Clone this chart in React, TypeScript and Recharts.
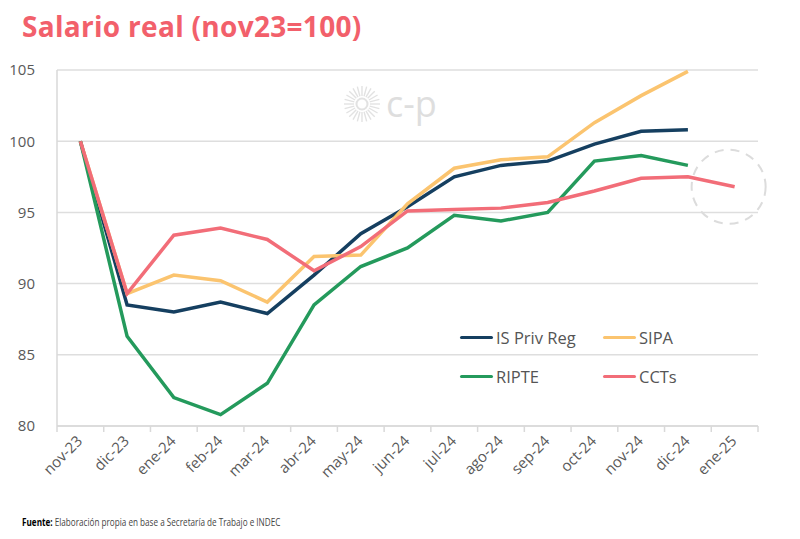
import { LineChart, Line, XAxis, YAxis, CartesianGrid, ReferenceDot } from "recharts";

const months = [
  "nov-23", "dic-23", "ene-24", "feb-24", "mar-24", "abr-24", "may-24", "jun-24",
  "jul-24", "ago-24", "sep-24", "oct-24", "nov-24", "dic-24", "ene-25",
];
const isPrivReg = [100, 88.5, 88.0, 88.7, 87.9, 90.6, 93.5, 95.4, 97.5, 98.3, 98.6, 99.8, 100.7, 100.8, null];
const sipa = [100, 89.3, 90.6, 90.2, 88.7, 91.9, 92.0, 95.6, 98.1, 98.7, 98.9, 101.3, 103.2, 104.9, null];
const ripte = [100, 86.3, 82.0, 80.8, 83.0, 88.5, 91.2, 92.5, 94.8, 94.4, 95.0, 98.6, 99.0, 98.3, null];
const ccts = [100, 89.3, 93.4, 93.9, 93.1, 90.9, 92.6, 95.1, 95.2, 95.3, 95.7, 96.5, 97.4, 97.5, 96.8];
const yTicks = [80, 85, 90, 95, 100, 105];

const series = [
  { key: "isPrivReg", name: "IS Priv Reg", color: "#153f60" },
  { key: "sipa", name: "SIPA", color: "#fbc46f" },
  { key: "ripte", name: "RIPTE", color: "#249a5c" },
  { key: "ccts", name: "CCTs", color: "#f26d78" },
];

const data = months.map((m, i) => ({
  month: m,
  isPrivReg: isPrivReg[i],
  sipa: sipa[i],
  ripte: ripte[i],
  ccts: ccts[i],
}));

const FONT = "'Open Sans', 'Noto Sans', sans-serif";
const HALF_BAND = (800 - 57 - 42) / months.length / 2;

const MonthTick = (props: any) => {
  const { x, y, payload, index } = props;
  const last = index === months.length - 1;
  return (
    <g>
      <line x1={x - HALF_BAND} x2={x - HALF_BAND} y1={y - 8} y2={y - 2} stroke="#d9d9d9" strokeWidth={1.5} />
      {last && <line x1={x + HALF_BAND} x2={x + HALF_BAND} y1={y - 8} y2={y - 2} stroke="#d9d9d9" strokeWidth={1.5} />}
      <text
        x={x + 3}
        y={y + 8}
        transform={`rotate(-45 ${x + 3} ${y + 8})`}
        textAnchor="end"
        fontSize={15}
        fill="#595959"
        fontFamily={FONT}
      >
        {payload.value}
      </text>
    </g>
  );
};

const Circle = (props: any) => (
  <circle cx={props.cx - 6} cy={props.cy} r={37} fill="none" stroke="#dcdcdc" strokeWidth={2} strokeDasharray="9 7" />
);

function Logo() {
  const rays = Array.from({ length: 24 }, (_, i) => i);
  return (
    <svg width={110} height={50} style={{ position: "absolute", left: 340, top: 80 }}>
      <g transform="translate(22 24)">
        {rays.map((i) => {
          const a = (i * Math.PI * 2) / 24;
          return (
            <line key={i} x1={Math.cos(a) * 8} y1={Math.sin(a) * 8} x2={Math.cos(a) * 18} y2={Math.sin(a) * 18}
              stroke="#e2e2e2" strokeWidth={1.4} />
          );
        })}
        <circle r={5.5} fill="none" stroke="#e2e2e2" strokeWidth={2} />
      </g>
      <text x={46} y={37} fontSize={36} fill="#dedede" fontFamily={FONT}>c-p</text>
    </svg>
  );
}

function LegendItem({ name, color, left, top }: { name: string; color: string; left: number; top: number }) {
  return (
    <div style={{ position: "absolute", left, top, display: "flex", alignItems: "center", fontFamily: FONT, fontSize: 16.5, color: "#555" }}>
      <div style={{ width: 33, height: 3.5, borderRadius: 2, background: color, marginRight: 3 }} />
      <span>{name}</span>
    </div>
  );
}

export default function App() {
  return (
    <div style={{ position: "absolute", left: 0, top: 0, width: 800, height: 539, background: "#fff", overflow: "hidden" }}>
      <div style={{ position: "absolute", left: 22, top: 7, fontFamily: FONT, fontWeight: 700, fontSize: 28, letterSpacing: 0.3, color: "#f2606b" }}>
        Salario real (nov23=100)
      </div>
      <Logo />
      <LineChart width={800} height={539} data={data} margin={{ top: 70, right: 42, bottom: 53, left: 0 }}>
        <CartesianGrid vertical={false} stroke="#dedede" strokeWidth={1.5} />
        <XAxis
          dataKey="month"
          interval={0}
          height={60}
          padding={{ left: HALF_BAND, right: HALF_BAND }}
          tickLine={false}
          axisLine={{ stroke: "#d9d9d9", strokeWidth: 1.5 }}
          tick={<MonthTick />}
        />
        <YAxis
          domain={[80, 105]}
          ticks={yTicks}
          width={57}
          tickLine={false}
          tickMargin={16}
          axisLine={{ stroke: "#d9d9d9", strokeWidth: 1.5 }}
          tick={{ fontSize: 15, fill: "#595959", fontFamily: FONT }}
        />
        <YAxis
          yAxisId="r"
          orientation="right"
          domain={[80, 105]}
          width={0}
          tick={false}
          tickLine={false}
          axisLine={{ stroke: "#d9d9d9", strokeWidth: 1.5 }}
        />
        {series.map((s) => (
          <Line
            key={s.key}
            dataKey={s.key}
            name={s.name}
            stroke={s.color}
            strokeWidth={3.5}
            dot={false}
            type="linear"
            isAnimationActive={false}
          />
        ))}
        <ReferenceDot x="ene-25" y={96.8} r={37} shape={<Circle />} />
      </LineChart>
      <LegendItem name={series[0].name} color={series[0].color} left={460} top={326} />
      <LegendItem name={series[1].name} color={series[1].color} left={603} top={326} />
      <LegendItem name={series[2].name} color={series[2].color} left={460} top={365} />
      <LegendItem name={series[3].name} color={series[3].color} left={603} top={365} />
      <div
        style={{
          position: "absolute",
          left: 22,
          top: 514,
          fontFamily: FONT,
          fontSize: 11,
          color: "#444",
          whiteSpace: "nowrap",
          transform: "scaleX(0.74)",
          transformOrigin: "left top",
        }}
      >
        <b style={{ color: "#000" }}>Fuente:</b> Elaboración propia en base a Secretaría de Trabajo e INDEC
      </div>
    </div>
  );
}
